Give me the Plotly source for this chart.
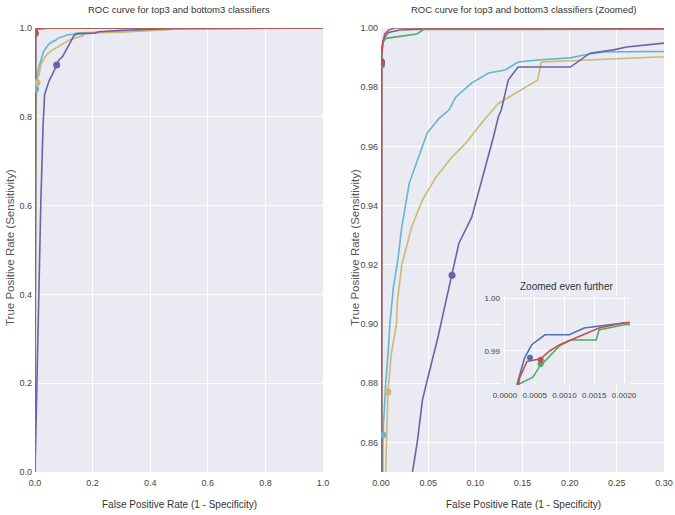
import plotly.graph_objects as go

# ---------------- data ----------------
names = ["cyan", "yellow", "purple", "blue", "green", "red"]
colors = {"cyan": "#64B5CD", "yellow": "#CCB974", "purple": "#6B62A8",
          "blue": "#4C72B0", "green": "#55A868", "red": "#C44E52"}

fpr_cyan = [0, 0.0005, 0.002, 0.003, 0.005, 0.0075, 0.0094, 0.013, 0.018, 0.022, 0.030, 0.0387,
            0.049, 0.0617, 0.072, 0.0794, 0.096, 0.114, 0.1317, 0.1453, 0.166, 0.2007, 0.215,
            0.236, 0.30, 0.5, 1.0]
tpr_cyan = [0, 0.70, 0.8625, 0.87, 0.88, 0.89, 0.90, 0.912, 0.922, 0.9327, 0.9476, 0.9554,
            0.9645, 0.9695, 0.9723, 0.9767, 0.9814, 0.9848, 0.9858, 0.9885, 0.9892, 0.9899, 0.9909,
            0.9919, 0.9921, 0.998, 1.0]

fpr_yellow = [0, 0.001, 0.003, 0.005, 0.0073, 0.011, 0.0164, 0.0175, 0.022, 0.0324, 0.0439, 0.0585,
              0.0753, 0.0899, 0.1066, 0.1244, 0.1453, 0.166, 0.17, 0.30, 0.5, 1.0]
tpr_yellow = [0, 0.60, 0.82, 0.85, 0.877, 0.89, 0.90, 0.908, 0.92, 0.9327, 0.9419, 0.9497,
              0.9564, 0.9611, 0.9679, 0.9745, 0.9784, 0.9824, 0.9885, 0.9903, 0.998, 1.0]

fpr_purple = [0, 0.006, 0.013, 0.02, 0.028, 0.0334, 0.0387, 0.0439, 0.049, 0.06, 0.069, 0.0753,
              0.0826, 0.0962, 0.1108, 0.1192, 0.1244, 0.1275, 0.1349, 0.1453, 0.2007, 0.208,
              0.2216, 0.2467, 0.2603, 0.30, 0.5, 1.0]
tpr_purple = [0, 0.2, 0.4, 0.6, 0.78, 0.85, 0.8607, 0.8743, 0.881, 0.895, 0.908, 0.9165,
              0.9273, 0.9361, 0.953, 0.9632, 0.970, 0.9723, 0.9824, 0.9868, 0.9868, 0.9885,
              0.9915, 0.9926, 0.9936, 0.9949, 0.999, 1.0]

fpr_blue = [0, 0, 0.0002, 0.00033, 0.00045, 0.00067, 0.00108, 0.00133, 0.00203, 0.004, 0.008,
            0.02, 0.05, 1.0]
tpr_blue = [0, 0.97, 0.9835, 0.9887, 0.9912, 0.9931, 0.9931, 0.9944, 0.9954, 0.997, 0.9985,
            0.9993, 0.9997, 1.0]

fpr_green = [0, 0, 0.0002, 0.00047, 0.00058, 0.00092, 0.0011, 0.00153, 0.00158, 0.002, 0.005,
             0.015, 0.038, 0.045, 1.0]
tpr_green = [0, 0.96, 0.9835, 0.985, 0.987, 0.991, 0.9921, 0.9921, 0.994, 0.995, 0.9965,
             0.997, 0.998, 0.9995, 1.0]

fpr_red = [0, 0, 0.00025, 0.00037, 0.0006, 0.00075, 0.00092, 0.0011, 0.0013, 0.00158, 0.002,
           0.004, 0.008, 0.014, 1.0]
tpr_red = [0, 0.97, 0.985, 0.988, 0.9885, 0.990, 0.9912, 0.9921, 0.9931, 0.9944, 0.9954,
           0.998, 0.9993, 1.0, 1.0]

# threshold markers
mark_fpr = {"cyan": 0.002, "yellow": 0.0073, "purple": 0.0753, "blue": 0.00042,
            "green": 0.0006, "red": 0.0006}
mark_tpr = {"cyan": 0.8625, "yellow": 0.877, "purple": 0.9165, "blue": 0.9887,
            "green": 0.9875, "red": 0.9883}

curves = {"cyan": (fpr_cyan, tpr_cyan), "yellow": (fpr_yellow, tpr_yellow),
          "purple": (fpr_purple, tpr_purple), "blue": (fpr_blue, tpr_blue),
          "green": (fpr_green, tpr_green), "red": (fpr_red, tpr_red)}
top3 = ["blue", "green", "red"]

main_title = "ROC curve for top3 and bottom3 classifiers"
zoom_title = "ROC curve for top3 and bottom3 classifiers (Zoomed)"
inset_title = "Zoomed even further"
xlab = "False Positive Rate (1 - Specificity)"
ylab = "True Positive Rate (Sensitivity)"

left_ticks = [0.0, 0.2, 0.4, 0.6, 0.8, 1.0]
zoom_xticks = [0.00, 0.05, 0.10, 0.15, 0.20, 0.25, 0.30]
zoom_yticks = [0.86, 0.88, 0.90, 0.92, 0.94, 0.96, 0.98, 1.00]
inset_xticks = [0.0000, 0.0005, 0.0010, 0.0015, 0.0020]
inset_yticks = [0.99, 1.00]

# ---------------- figure ----------------
W, H = 675, 515
def px(x): return x / W
def py(y): return (H - y) / H

fig = go.Figure()
for ax in [("x", "y"), ("x2", "y2")]:
    for n in names:
        fx, ty = curves[n]
        fig.add_trace(go.Scatter(x=fx, y=ty, mode="lines", xaxis=ax[0], yaxis=ax[1],
                                 line=dict(color=colors[n], width=1.6), showlegend=False,
                                 hoverinfo="skip"))
    for n in names:
        fig.add_trace(go.Scatter(x=[mark_fpr[n]], y=[mark_tpr[n]], mode="markers",
                                 xaxis=ax[0], yaxis=ax[1], cliponaxis=True,
                                 marker=dict(color=colors[n], size=7), showlegend=False))
for n in top3:
    fx, ty = curves[n]
    fig.add_trace(go.Scatter(x=fx, y=ty, mode="lines", xaxis="x3", yaxis="y3",
                             line=dict(color=colors[n], width=1.6), showlegend=False))
for n in top3:
    fig.add_trace(go.Scatter(x=[mark_fpr[n]], y=[mark_tpr[n]], mode="markers",
                             xaxis="x3", yaxis="y3",
                             marker=dict(color=colors[n], size=6), showlegend=False))

BG = "#EAEAF2"
FONT = "Liberation Sans, Arial, sans-serif"
tickfont = dict(family=FONT, size=9, color="#444")
common = dict(showgrid=True, gridcolor="white", gridwidth=1, zeroline=False, showline=False,
              ticks="", tickfont=tickfont, automargin=False, ticklabeloverflow="allow")

def ann(text, x, y, size=10, color="#333", angle=0):
    return dict(text=text, x=px(x), y=py(y), xref="paper", yref="paper", textangle=angle,
                xanchor="center", yanchor="middle", showarrow=False,
                font=dict(family=FONT, size=size, color=color))

fig.update_layout(
    width=W, height=H, margin=dict(l=0, r=0, t=0, b=0, autoexpand=False),
    paper_bgcolor="white", plot_bgcolor=BG,
    xaxis=dict(domain=[px(35), px(323)], range=[0, 1], tickvals=left_ticks, tickformat=".1f",
               anchor="y", ticklabelstandoff=4, **common),
    yaxis=dict(domain=[py(472), py(28)], range=[0, 1], tickvals=left_ticks, tickformat=".1f",
               anchor="x", ticklabelstandoff=2, **common),
    xaxis2=dict(domain=[px(381), px(664)], range=[0, 0.30], tickvals=zoom_xticks,
                tickformat=".2f", anchor="y2", ticklabelstandoff=4, **common),
    yaxis2=dict(domain=[py(472), py(28)], range=[0.85, 1.0], tickvals=zoom_yticks,
                tickformat=".2f", anchor="x2", ticklabelstandoff=2, **common),
    xaxis3=dict(domain=[px(502), px(630)], range=[-0.00005, 0.0021], tickvals=inset_xticks,
                tickformat=".4f", anchor="y3", tickangle=0, ticklabelstandoff=4, **common),
    yaxis3=dict(domain=[py(385), py(296)], range=[0.9835, 1.0005], tickvals=inset_yticks,
                tickformat=".2f", anchor="x3", ticklabelstandoff=1, **common),
    shapes=[dict(type="rect", xref="paper", yref="paper", x0=px(502), x1=px(630),
                 y0=py(385), y1=py(296), fillcolor=BG, line=dict(width=0), layer="below")],
    annotations=[
        ann(main_title, 179, 10, size=9.5),
        ann(zoom_title, 523, 10, size=9.5),
        ann(inset_title, 566, 287),
        ann(xlab, 179, 504),
        ann(xlab, 523, 504),
        ann(ylab, 10, 248, size=11.5, color="#555", angle=-90),
        ann(ylab, 355, 248, size=11.5, color="#555", angle=-90),
    ],
)
fig.update_layout(xaxis3_tickfont=dict(size=8), yaxis3_tickfont=dict(size=8))

fig.write_html("out.html", config={"displayModeBar": False},
               post_script="document.body.style.margin='0';document.body.style.overflow='hidden';")
